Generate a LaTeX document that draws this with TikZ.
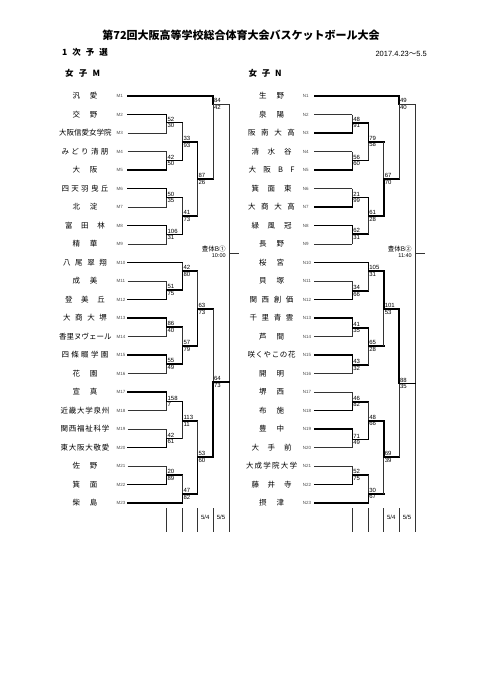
\documentclass[tikz,border=0pt]{standalone}
\usepackage{fontspec}
\setmainfont{Noto Sans CJK JP}
\newfontfamily\latinfont{Liberation Sans}

% spread the letters of a name over a fixed width
\newcommand\spread[2]{\makebox[#1][s]{\expandafter\spreadgo#2\relax}}
\def\spreadgo#1{#1\spreadnext}
\def\spreadnext#1{\ifx#1\relax\else\hfill#1\expandafter\spreadnext\fi}

% one game: output, winner in, loser in, style of loser's feed, upper score, lower score
\newcommand\bout[6]{%
  \draw[#4] (#3) -- (#3 -| #1);
  \draw[lose] (#3 -| #1) -- (#1);
  \draw[win] (#2) -- (#2 -| #1) -- (#1);
  \node[score, anchor=south west] (#1t) at (#1) {#5};
  \node[score, anchor=north west] (#1b) at (#1) {#6};
}

\tikzset{
  win/.style={line width=1.6pt, line cap=rect},
  lose/.style={line width=0.6pt, black!80},
  team/.style={font=\fontsize{7.5}{8}\selectfont, inner sep=0pt},
  tag/.style={font=\latinfont\fontsize{4.5}{5}\selectfont, text=black!70, inner sep=0pt, anchor=west},
  score/.style={font=\latinfont\fontsize{6}{6}\selectfont, inner sep=0.9pt},
  venue/.style={font=\fontsize{6.5}{7}\selectfont, inner sep=0.6pt},
  head/.style={font=\bfseries\fontsize{8.5}{9}\selectfont, inner sep=0pt},
}

\begin{document}
\begin{tikzpicture}[x=1pt, y=-1pt]
  \useasboundingbox (0,0) rectangle (482,680);

  \node[font=\bfseries\fontsize{11}{12}\selectfont] (title) at (241,35) {第72回大阪高等学校総合体育大会バスケットボール大会};
  \node[head] (round) at (85,52) {\spread{46pt}{1次予選}};
  \node[anchor=east, inner sep=0pt, font=\fontsize{7.5}{8}\selectfont] (span) at (427,54) {{\latinfont 2017.4.23}～{\latinfont 5.5}};
  \node[head] (grpM) at (82.5,73) {\spread{35pt}{女子M}};
  \node[head] (grpN) at (265,73) {\spread{33pt}{女子N}};

  % teams, block M
  \foreach \i/\nm/\w in {1/汎愛/25, 2/交野/25, 3/大阪信愛女学院/52, 4/みどり清朋/47, 5/大阪/25,
      6/四天羽曳丘/47, 7/北淀/25, 8/富田林/40, 9/精華/25, 10/八尾翠翔/44, 11/成美/25,
      12/登美丘/40, 13/大商大堺/44, 14/香里ヌヴェール/52, 15/四條畷学園/47, 16/花園/25,
      17/宣真/25, 18/近畿大学泉州/49, 19/関西福祉科学/49, 20/東大阪大敬愛/49, 21/佐野/25,
      22/箕面/25, 23/柴島/25} {
    \node[team] (tm\i) at (85,{96+(\i-1)*18.5}) {\spread{\w pt}{\nm}};
    \node[tag] (km\i) at (116.5,{96+(\i-1)*18.5}) {M\i};
    \coordinate (m\i) at (127.5,{96+(\i-1)*18.5});
  }

  % teams, block N
  \foreach \i/\nm/\w in {1/生野/25, 2/泉陽/25, 3/阪南大高/47, 4/清水谷/40, 5/大阪BF/46,
      6/箕面東/40, 7/大商大高/47, 8/緑風冠/40, 9/長野/25, 10/桜宮/25, 11/貝塚/25,
      12/関西創価/44, 13/千里青雲/44, 14/芦間/25, 15/咲くやこの花/48, 16/開明/25,
      17/堺西/25, 18/布施/25, 19/豊中/25, 20/大手前/40, 21/大成学院大学/51,
      22/藤井寺/40, 23/摂津/25} {
    \node[team] (tn\i) at (271.5,{96+(\i-1)*18.5}) {\spread{\w pt}{\nm}};
    \node[tag] (kn\i) at (302.7,{96+(\i-1)*18.5}) {N\i};
    \coordinate (n\i) at (314.3,{96+(\i-1)*18.5});
  }

  % game points, block M
  \coordinate (mA) at (166.5,122.5);
  \coordinate (mB) at (166.5,160.5);
  \coordinate (mC) at (182.5,142);
  \coordinate (mD) at (166.5,197.5);
  \coordinate (mE) at (166.5,234.5);
  \coordinate (mF) at (182.5,216);
  \coordinate (mG) at (197.5,179);
  \coordinate (mH) at (213,104);
  \coordinate (mI) at (166.5,290);
  \coordinate (mJ) at (182.5,271);
  \coordinate (mK) at (166.5,327);
  \coordinate (mL) at (166.5,364);
  \coordinate (mM) at (182.5,346);
  \coordinate (mO) at (197.5,309);
  \coordinate (mP) at (166.5,401.5);
  \coordinate (mQ) at (166.5,438.5);
  \coordinate (mR) at (182.5,421);
  \coordinate (mS) at (166.5,475);
  \coordinate (mT) at (182.5,494);
  \coordinate (mU) at (197.5,457);
  \coordinate (mV) at (213,382);
  \coordinate (mX) at (229,253);
  \coordinate (mbot) at (229,532);

  % game points, block N
  \coordinate (nA) at (352.3,122.7);
  \coordinate (nB) at (352.3,160.3);
  \coordinate (nC) at (368.3,141.7);
  \coordinate (nD) at (352.3,197.3);
  \coordinate (nE) at (352.3,234);
  \coordinate (nF) at (368.3,216);
  \coordinate (nG) at (383.7,179);
  \coordinate (nH) at (399,104);
  \coordinate (nI) at (352.3,291);
  \coordinate (nJ) at (368.3,271);
  \coordinate (nK) at (352.3,327.7);
  \coordinate (nL) at (352.3,365);
  \coordinate (nM) at (368.3,346);
  \coordinate (nO) at (383.7,309);
  \coordinate (nP) at (352.3,401.7);
  \coordinate (nQ) at (352.3,439.3);
  \coordinate (nR) at (368.3,420.7);
  \coordinate (nS) at (352.3,475);
  \coordinate (nT) at (368.3,493.7);
  \coordinate (nU) at (383.7,457);
  \coordinate (nV) at (399,383.3);
  \coordinate (nX) at (415,253);
  \coordinate (nbot) at (415,532);

  % block M games
  \bout{mA}{m2}{m3}{lose}{52}{30}
  \bout{mB}{m5}{m4}{lose}{42}{50}
  \bout{mC}{mB}{mA}{win}{33}{93}
  \bout{mD}{m6}{m7}{lose}{50}{35}
  \bout{mE}{m8}{m9}{lose}{106}{31}
  \bout{mF}{mE}{mD}{win}{41}{73}
  \bout{mG}{mC}{mF}{win}{87}{26}
  \bout{mH}{m1}{mG}{win}{84}{42}
  \bout{mI}{m12}{m11}{lose}{51}{75}
  \bout{mJ}{mI}{m10}{win}{42}{80}
  \bout{mK}{m13}{m14}{lose}{86}{40}
  \bout{mL}{m15}{m16}{lose}{55}{49}
  \bout{mM}{mL}{mK}{win}{57}{79}
  \bout{mO}{mM}{mJ}{win}{63}{73}
  \bout{mP}{m17}{m18}{lose}{158}{7}
  \bout{mQ}{m20}{m19}{lose}{42}{61}
  \bout{mR}{mP}{mQ}{win}{113}{11}
  \bout{mS}{m22}{m21}{lose}{20}{89}
  \bout{mT}{m23}{mS}{win}{47}{82}
  \bout{mU}{mT}{mR}{win}{53}{60}
  \bout{mV}{mU}{mO}{win}{64}{73}

  % block N games
  \bout{nA}{n3}{n2}{lose}{48}{91}
  \bout{nB}{n5}{n4}{lose}{56}{60}
  \bout{nC}{nA}{nB}{win}{79}{58}
  \bout{nD}{n7}{n6}{lose}{21}{99}
  \bout{nE}{n8}{n9}{lose}{62}{31}
  \bout{nF}{nD}{nE}{win}{61}{28}
  \bout{nG}{nF}{nC}{win}{67}{70}
  \bout{nH}{n1}{nG}{win}{49}{40}
  \bout{nI}{n12}{n11}{lose}{34}{66}
  \bout{nJ}{n10}{nI}{win}{105}{31}
  \bout{nK}{n13}{n14}{lose}{41}{35}
  \bout{nL}{n15}{n16}{lose}{43}{32}
  \bout{nM}{nK}{nL}{win}{65}{28}
  \bout{nO}{nJ}{nM}{win}{101}{53}
  \bout{nP}{n18}{n17}{lose}{46}{82}
  \bout{nQ}{n19}{n20}{lose}{71}{49}
  \bout{nR}{nQ}{nP}{win}{48}{66}
  \bout{nS}{n22}{n21}{lose}{52}{75}
  \bout{nT}{n23}{nS}{win}{30}{67}
  \bout{nU}{nR}{nT}{win}{69}{39}
  \bout{nV}{nO}{nU}{win}{88}{35}

  % block finals
  \draw[lose] (mH) -- (mH -| mX) -- (mbot);
  \draw[win] (mV) -- (mV -| mX);
  \draw[lose] (mX) -- ++(10,0);
  \node[venue, anchor=south east] (mXa) at (226.5,253) {豊体B①};
  \node[venue, anchor=north east, font=\latinfont\fontsize{5.5}{6}\selectfont] (mXb) at (226.5,253) {10:00};

  \draw[lose] (nH) -- (nH -| nX) -- (nbot);
  \draw[win] (nV) -- (nV -| nX);
  \draw[lose] (nX) -- ++(10,0);
  \node[venue, anchor=south east] (nXa) at (412.5,253) {豊体B②};
  \node[venue, anchor=north east, font=\latinfont\fontsize{5.5}{6}\selectfont] (nXb) at (412.5,253) {11:40};

  % date columns under the brackets
  \foreach \x in {166.5,182.5,197.5,213}
    \draw[lose] (\x,508) -- (\x,532);
  \foreach \x in {352.3,368.3,383.7,399}
    \draw[lose] (\x,508) -- (\x,532);
  \node[venue, font=\latinfont\fontsize{6}{6}\selectfont] (md4) at (205.2,517) {5/4};
  \node[venue, font=\latinfont\fontsize{6}{6}\selectfont] (md5) at (221,517) {5/5};
  \node[venue, font=\latinfont\fontsize{6}{6}\selectfont] (nd4) at (391.3,517) {5/4};
  \node[venue, font=\latinfont\fontsize{6}{6}\selectfont] (nd5) at (407,517) {5/5};
\end{tikzpicture}
\end{document}
